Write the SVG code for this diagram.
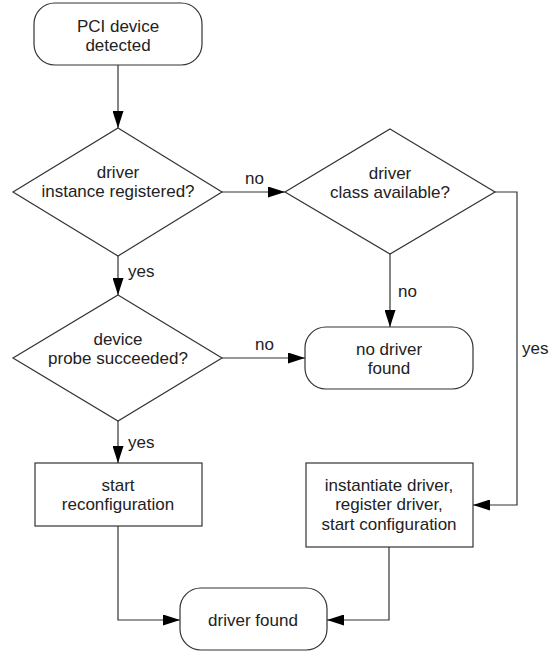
<svg xmlns="http://www.w3.org/2000/svg" width="553" height="652" viewBox="0 0 553 652">
<style>
.shape{fill:#fff;stroke:#333;stroke-width:1.2}
.t{font-family:"Liberation Sans",Arial,sans-serif;font-size:17px;fill:#222;text-anchor:middle}
.l{font-family:"Liberation Sans",Arial,sans-serif;font-size:17px;fill:#222}
.c{fill:none;stroke:#333;stroke-width:1.2}
</style>
<defs>
<marker id="ah" markerUnits="userSpaceOnUse" markerWidth="17" markerHeight="11" refX="17" refY="5.5" orient="auto">
<path d="M0,0 L17,5.5 L0,11 z" fill="#000"/>
</marker>
</defs>
<rect width="553" height="652" fill="#fff"/>
<g id="connectors">
<path class="c" d="M118,65 V128" marker-end="url(#ah)"/>
<path class="c" d="M222,192 H285" marker-end="url(#ah)"/>
<path class="c" d="M118,256 V295" marker-end="url(#ah)"/>
<path class="c" d="M390,254 V327" marker-end="url(#ah)"/>
<path class="c" d="M222,358 H305" marker-end="url(#ah)"/>
<path class="c" d="M118,421 V463" marker-end="url(#ah)"/>
<path class="c" d="M495,192 H517 V505 H473" marker-end="url(#ah)"/>
<path class="c" d="M118,526 V620 H180" marker-end="url(#ah)"/>
<path class="c" d="M389,547 V620 H327" marker-end="url(#ah)"/>
<text class="l" x="245" y="184">no</text>
<text class="l" x="128" y="277">yes</text>
<text class="l" x="398" y="297">no</text>
<text class="l" x="255" y="350">no</text>
<text class="l" x="128" y="448">yes</text>
<text class="l" x="522" y="354">yes</text>
</g>
<g id="start">
<rect class="shape" x="34" y="3" width="168" height="62" rx="21"/>
<text class="t" x="118" y="32">PCI device</text>
<text class="t" x="118" y="51">detected</text>
</g>
<g id="d1">
<polygon class="shape" points="118,128 222,192 118,256 13,192"/>
<text class="t" x="118" y="178">driver</text>
<text class="t" x="118" y="197">instance registered?</text>
</g>
<g id="d2">
<polygon class="shape" points="390,129 495,192 390,254 285,192"/>
<text class="t" x="390" y="179">driver</text>
<text class="t" x="390" y="198">class available?</text>
</g>
<g id="nofound">
<rect class="shape" x="305" y="327" width="168" height="62" rx="21"/>
<text class="t" x="389" y="355">no driver</text>
<text class="t" x="389" y="374">found</text>
</g>
<g id="d3">
<polygon class="shape" points="118,295 222,358 118,421 13,358"/>
<text class="t" x="118" y="345">device</text>
<text class="t" x="118" y="364">probe succeeded?</text>
</g>
<g id="reconf">
<rect class="shape" x="35" y="463" width="167" height="63"/>
<text class="t" x="118" y="491">start</text>
<text class="t" x="118" y="510">reconfiguration</text>
</g>
<g id="inst">
<rect class="shape" x="306" y="463" width="167" height="84"/>
<text class="t" x="389" y="491">instantiate driver,</text>
<text class="t" x="389" y="510">register driver,</text>
<text class="t" x="389" y="530">start configuration</text>
</g>
<g id="found">
<rect class="shape" x="180" y="588" width="147" height="62" rx="21"/>
<text class="t" x="253" y="626">driver found</text>
</g>
</svg>
